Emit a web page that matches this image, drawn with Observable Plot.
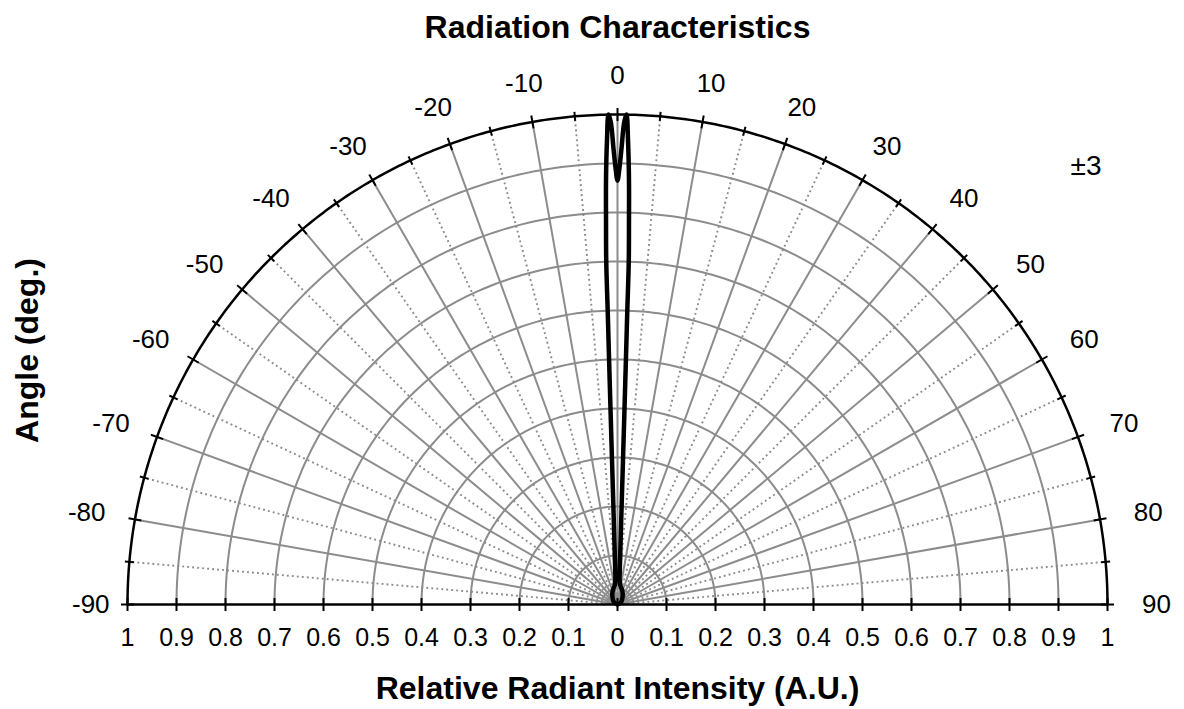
<!DOCTYPE html>
<html><head><meta charset="utf-8">
<script src="https://cdn.jsdelivr.net/npm/d3@7"></script>
<script src="https://cdn.jsdelivr.net/npm/@observablehq/plot@0.6"></script>
<style>body{margin:0;background:#fff;}</style>
</head><body><div id="chart"></div>
<script>
// ---- data ----
const angleDeg = [-90,-60,-40,-25,-15,-8,-5,-4,-3.15,-2.44,-2.19,-1.97,-1.91,-1.88,-1.72,-1.55,-1.3,-1.05,-0.8,-0.5,-0.25,0,
                  0.25,0.5,0.8,1.05,1.3,1.55,1.72,1.88,1.91,1.97,2.19,2.44,3.15,4,5,8,15,25,40,60,90];
const intensity = [0,0.008,0.015,0.025,0.033,0.04,0.05,0.065,0.1,0.19,0.29,0.5,0.6,0.7,0.78,0.866,0.947,1.0,0.985,0.93,0.89,0.865,
                   0.89,0.93,0.985,1.0,0.947,0.866,0.78,0.7,0.6,0.5,0.29,0.19,0.1,0.065,0.05,0.04,0.033,0.025,0.015,0.008,0];
const angleTicks = [-90,-80,-70,-60,-50,-40,-30,-20,-10,0,10,20,30,40,50,60,70,80,90];
const angleTickLabels = ["-90","-80","-70","-60","-50","-40","-30","-20","-10","0","10","20","30","40","50","60","70","80","90"];
const radiusTicks = [-1,-0.9,-0.8,-0.7,-0.6,-0.5,-0.4,-0.3,-0.2,-0.1,0,0.1,0.2,0.3,0.4,0.5,0.6,0.7,0.8,0.9,1];
const radiusTickLabels = ["1","0.9","0.8","0.7","0.6","0.5","0.4","0.3","0.2","0.1","0","0.1","0.2","0.3","0.4","0.5","0.6","0.7","0.8","0.9","1"];
const gridRadii = [0.1,0.2,0.3,0.4,0.5,0.6,0.7,0.8,0.9];
const spokeAngles = [-85,-80,-75,-70,-65,-60,-55,-50,-45,-40,-35,-30,-25,-20,-15,-10,-5,0,5,10,15,20,25,30,35,40,45,50,55,60,65,70,75,80,85];
const titleText = "Radiation Characteristics";
const xTitle = "Relative Radiant Intensity (A.U.)";
const yTitle = "Angle (deg.)";
const noteText = "±3";

// ---- helpers ----
const rad = a => a * Math.PI / 180;
const px = (r, a) => r * Math.sin(rad(a));
const py = (r, a) => r * Math.cos(rad(a));

const curvePts = angleDeg.map((a, i) => ({x: px(intensity[i], a), y: py(intensity[i], a)}));
const arcPts = [];
for (const r of gridRadii) for (let a = -90; a <= 90; a += 1) arcPts.push({r, x: px(r, a), y: py(r, a)});
const outerPts = [];
for (let a = -90; a <= 90; a += 0.5) outerPts.push({x: px(1, a), y: py(1, a)});
const majorSpokes = spokeAngles.filter(a => a % 10 === 0);
const minorSpokes = spokeAngles.filter(a => a % 10 !== 0);
const allRimTicks = [...spokeAngles, -90, 90];
const majorRim = allRimTicks.filter(a => a % 10 === 0);
const minorRim = allRimTicks.filter(a => a % 10 !== 0);
const LM = 6.5 / 490, Lm = 4.5 / 490;
const gray = "#8c8c8c";
const font = "Liberation Sans, Arial, Helvetica, sans-serif";
const labelX = a => a === -90 ? -1.075 : px(1.1, a);
const labelY = a => py(1.08, a);

const chart = Plot.plot({
  width: 1184, height: 709,
  marginTop: 114, marginBottom: 105, marginLeft: 127, marginRight: 77,
  x: {domain: [-1, 1], axis: null},
  y: {domain: [0, 1], axis: null},
  style: {fontFamily: font, color: "black", background: "white"},
  marks: [
    Plot.line(arcPts, {x: "x", y: "y", z: "r", stroke: gray, strokeWidth: 2}),
    Plot.link(majorSpokes, {x1: () => 0, y1: () => 0, x2: a => px(1, a), y2: a => py(1, a), stroke: gray, strokeWidth: 2}),
    Plot.link(minorSpokes, {x1: () => 0, y1: () => 0, x2: a => px(1, a), y2: a => py(1, a), stroke: gray, strokeWidth: 1.9, strokeDasharray: "1.9,3.1"}),
    Plot.line(outerPts, {x: "x", y: "y", stroke: "black", strokeWidth: 2.5}),
    Plot.link([0], {x1: () => -1, x2: () => 1, y1: () => 0, y2: () => 0, stroke: "black", strokeWidth: 2.5}),
    Plot.link(radiusTicks, {x1: d => d, x2: d => d, y1: () => -LM, y2: () => LM, stroke: "black", strokeWidth: 2}),
    Plot.link(majorRim, {x1: a => px(1 - LM, a), y1: a => py(1 - LM, a), x2: a => px(1 + LM, a), y2: a => py(1 + LM, a), stroke: "black", strokeWidth: 2}),
    Plot.link(minorRim, {x1: a => px(1 - Lm, a), y1: a => py(1 - Lm, a), x2: a => px(1 + Lm, a), y2: a => py(1 + Lm, a), stroke: "black", strokeWidth: 2}),
    Plot.line(curvePts, {x: "x", y: "y", stroke: "black", strokeWidth: 4.5, strokeLinejoin: "round", curve: "catmull-rom"}),
    Plot.text(angleTicks, {x: labelX, y: labelY, text: (a, i) => angleTickLabels[i], fontSize: 26, fill: "black"}),
    Plot.text(radiusTicks, {x: d => d, y: () => 0, text: (d, i) => radiusTickLabels[i], dy: 33, fontSize: 25, fill: "black"}),
    Plot.text([titleText], {frameAnchor: "top", lineAnchor: "middle", dy: -87, fontSize: 32, fontWeight: "bold", fill: "black"}),
    Plot.text([xTitle], {frameAnchor: "bottom", lineAnchor: "middle", dy: 84, fontSize: 32, fontWeight: "bold", fill: "black"}),
    Plot.text([yTitle], {frameAnchor: "left", textAnchor: "middle", lineAnchor: "middle", rotate: -90, dx: -100, dy: -9, fontSize: 32, fontWeight: "bold", fill: "black"}),
    Plot.text([noteText], {frameAnchor: "top-right", textAnchor: "end", lineAnchor: "middle", dx: -6, dy: 52, fontSize: 28, fill: "black"})
  ]
});
document.getElementById("chart").appendChild(chart);
</script>
</body></html>
